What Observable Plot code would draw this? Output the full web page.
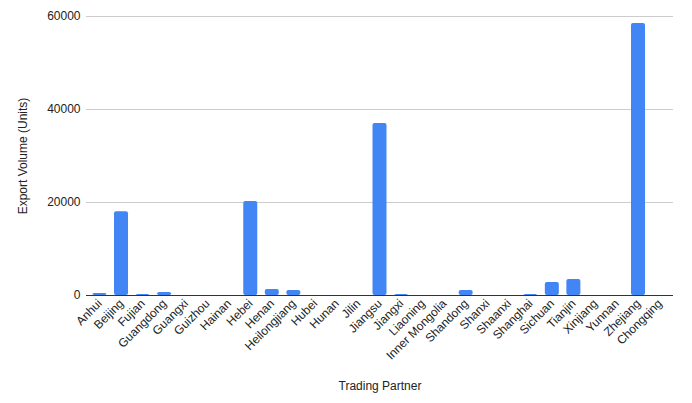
<!DOCTYPE html>
<html>
<head>
<meta charset="utf-8">
<script src="https://cdn.jsdelivr.net/npm/d3@7"></script>
<script src="https://cdn.jsdelivr.net/npm/@observablehq/plot@0.6"></script>
<style>
  html, body { margin: 0; padding: 0; background: #fff; }
  #chart { width: 692px; height: 403px; }
  #chart svg { font-family: "Liberation Sans", Arial, sans-serif; }
</style>
</head>
<body>
<div id="chart"></div>
<script>
// Export volume per trading partner
var partners = [
  "Anhui", "Beijing", "Fujian", "Guangdong", "Guangxi", "Guizhou", "Hainan",
  "Hebei", "Henan", "Heilongjiang", "Hubei", "Hunan", "Jilin", "Jiangsu",
  "Jiangxi", "Liaoning", "Inner Mongolia", "Shandong", "Shanxi", "Shaanxi",
  "Shanghai", "Sichuan", "Tianjin", "Xinjiang", "Yunnan", "Zhejiang", "Chongqing"
];
var volumes = [
  450, 18000, 200, 650, 0, 0, 0,
  20200, 1300, 1100, 0, 0, 0, 37000,
  200, 0, 0, 1050, 0, 0,
  200, 2800, 3450, 0, 0, 58500, 0
];
var yTicks = [0, 20000, 40000, 60000];

var data = partners.map(function(p, i) { return {partner: p, volume: volumes[i]}; });

var plot = Plot.plot({
  width: 692,
  height: 403,
  marginTop: 16,
  marginBottom: 108,
  marginLeft: 86,
  marginRight: 19,
  style: {fontSize: "12px", fontFamily: "Liberation Sans, Arial, sans-serif", color: "#222"},
  x: {domain: partners, paddingInner: 0.35, paddingOuter: 0.3, round: false},
  y: {domain: [0, 60000]},
  marks: [
    Plot.gridY(yTicks, {stroke: "#cccccc", strokeOpacity: 1}),
    Plot.barY(data, {x: "partner", y: "volume", fill: "#4285f4", rx: 2}),
    Plot.ruleY([0], {stroke: "#333"}),
    Plot.axisY(yTicks, {
      tickSize: 0, tickPadding: 6, tickFormat: function(d) { return String(d); },
      fill: "#222",
      label: "Export Volume (Units)", labelAnchor: "center", labelArrow: "none", labelOffset: 68
    }),
    Plot.axisX({
      tickSize: 0, tickPadding: 6, tickRotate: -45, fill: "#222",
      label: "Trading Partner", labelAnchor: "center", labelArrow: "none", labelOffset: 94
    })
  ]
});
document.getElementById("chart").appendChild(plot);
</script>
</body>
</html>
